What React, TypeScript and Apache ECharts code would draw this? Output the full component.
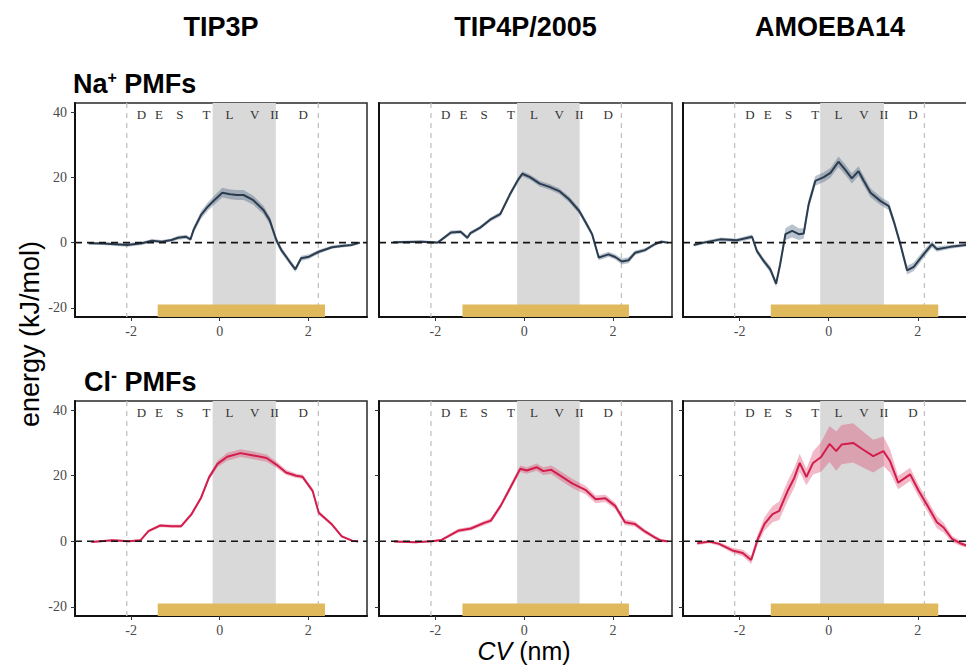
import React, { useEffect, useRef } from 'react';
import * as echarts from 'echarts';

// ---------- data ----------
const colTitles = ['TIP3P', 'TIP4P/2005', 'AMOEBA14'];
const xTickValues = [-2, 0, 2];
const yTickValues = [-20, 0, 20, 40];
const regionLetters = ['D', 'E', 'S', 'T', 'L', 'V', 'II', 'D'];
const regionLetterX = [-1.77, -1.37, -0.9, -0.3, 0.22, 0.79, 1.24, 1.89];
const regionLetterY = 39.3;
const shadeStart = [-0.16, -0.16, -0.19];
const shadeEnd = [1.27, 1.25, 1.24];
const guideLeft = [-2.1, -2.1, -2.11];
const guideRight = [2.23, 2.19, 2.15];
const barStart = [-1.4, -1.39, -1.3];
const barEnd = [2.38, 2.36, 2.46];
const barTop = -19;

// Na+ TIP3P
const naTip3pX = [-2.96, -2.64, -2.09, -1.76, -1.53, -1.31, -1.09, -0.94, -0.76, -0.66, -0.59, -0.42, -0.27, -0.13, 0.06, 0.24, 0.39, 0.54, 0.76, 0.99, 1.13, 1.28, 1.39, 1.58, 1.71, 1.84, 2.02, 2.24, 2.54, 2.76, 2.99, 3.17];
const naTip3pY = [-0.2, -0.3, -0.7, -0.2, 0.6, 0.3, 0.8, 1.5, 1.8, 1.0, 3.9, 8.5, 11.0, 12.9, 15.3, 14.8, 14.6, 14.6, 13.0, 10.0, 6.9, 0.8, -2.2, -5.8, -8.2, -4.8, -4.3, -2.8, -1.4, -1.0, -0.7, 0.0];
const naTip3pErr = [0.4, 0.4, 0.6, 0.5, 0.5, 0.5, 0.5, 0.6, 0.6, 0.6, 1.0, 1.2, 1.3, 1.4, 1.5, 1.5, 1.5, 1.5, 1.4, 1.3, 1.2, 1.0, 0.9, 0.8, 0.8, 0.8, 0.7, 0.6, 0.5, 0.5, 0.4, 0.4];

// Na+ TIP4P/2005
const naTip4pX = [-2.95, -2.32, -1.95, -1.65, -1.43, -1.28, -1.21, -0.99, -0.76, -0.54, -0.32, -0.13, -0.04, 0.13, 0.35, 0.57, 0.79, 1.01, 1.24, 1.39, 1.53, 1.68, 1.9, 2.05, 2.2, 2.35, 2.5, 2.72, 2.94, 3.09, 3.24];
const naTip4pY = [0.1, 0.3, 0.0, 3.1, 3.3, 1.5, 2.9, 4.6, 7.1, 8.7, 14.8, 19.4, 21.1, 20.1, 18.1, 17.1, 15.8, 13.3, 9.7, 6.1, 2.6, -4.6, -3.6, -4.4, -5.8, -5.4, -3.1, -2.3, -0.5, 0.3, 0.0];
const naTip4pErr = [0.4, 0.4, 0.4, 0.6, 0.6, 0.6, 0.6, 0.6, 0.6, 0.7, 0.8, 0.8, 0.8, 0.8, 0.9, 0.9, 0.9, 0.9, 0.9, 0.9, 0.8, 0.8, 0.8, 0.8, 0.9, 0.9, 0.7, 0.6, 0.5, 0.4, 0.4];

// Na+ AMOEBA14
const naAmoebaX = [-3.03, -2.81, -2.43, -2.06, -1.72, -1.61, -1.46, -1.31, -1.18, -1.09, -0.97, -0.82, -0.67, -0.56, -0.45, -0.3, -0.11, 0.04, 0.22, 0.37, 0.52, 0.67, 0.79, 0.94, 1.16, 1.35, 1.46, 1.61, 1.76, 1.91, 2.13, 2.32, 2.43, 2.73, 3.09, 3.33];
const naAmoebaY = [-0.7, 0.0, 1.0, 0.7, 1.8, -2.6, -5.6, -8.2, -12.6, -6.7, 2.6, 3.6, 2.6, 2.8, 11.7, 18.9, 20.1, 21.4, 24.8, 22.4, 19.7, 21.9, 18.9, 15.3, 12.8, 11.2, 6.6, -0.5, -8.5, -7.4, -3.6, -0.5, -2.0, -1.3, -0.7, -0.5];
const naAmoebaErr = [0.5, 0.5, 0.6, 0.6, 0.7, 0.8, 0.9, 1.0, 1.0, 1.2, 1.8, 2.0, 1.8, 1.6, 1.5, 1.5, 1.5, 1.5, 1.6, 1.6, 1.6, 1.5, 1.5, 1.4, 1.3, 1.3, 1.2, 1.2, 1.3, 1.3, 1.2, 1.0, 0.8, 0.6, 0.5, 0.5];

// Cl- TIP3P
const clTip3pX = [-2.9, -2.42, -2.05, -1.79, -1.61, -1.35, -1.09, -0.87, -0.64, -0.42, -0.24, -0.05, 0.17, 0.47, 0.76, 1.06, 1.28, 1.5, 1.73, 1.87, 2.1, 2.24, 2.54, 2.76, 2.99, 3.13];
const clTip3pY = [-0.2, 0.3, 0.0, 0.3, 3.1, 4.8, 4.6, 4.6, 8.2, 13.3, 19.5, 23.6, 25.8, 26.9, 26.2, 25.4, 23.4, 21.0, 20.0, 19.7, 15.4, 8.7, 5.1, 1.5, 0.2, -0.1];
const clTip3pErr = [0.3, 0.3, 0.3, 0.3, 0.4, 0.5, 0.5, 0.5, 0.6, 0.7, 0.8, 1.0, 1.2, 1.2, 1.2, 1.1, 1.0, 0.8, 0.7, 0.7, 0.7, 0.6, 0.5, 0.4, 0.3, 0.3];

// Cl- TIP4P/2005
const clTip4pX = [-2.93, -2.45, -2.08, -1.86, -1.49, -1.2, -0.9, -0.75, -0.53, -0.31, -0.09, 0.06, 0.28, 0.43, 0.61, 0.83, 1.09, 1.39, 1.61, 1.83, 2.05, 2.27, 2.49, 2.72, 2.94, 3.08, 3.23];
const clTip4pY = [-0.1, -0.3, 0.0, 0.4, 3.2, 3.9, 5.6, 6.3, 10.8, 16.4, 22.1, 21.6, 22.6, 21.4, 21.8, 19.9, 17.6, 15.6, 12.8, 13.1, 10.8, 5.8, 5.3, 3.0, 1.2, 0.2, 0.0];
const clTip4pErr = [0.3, 0.3, 0.3, 0.4, 0.6, 0.6, 0.7, 0.7, 0.8, 0.9, 1.0, 1.0, 1.1, 1.2, 1.3, 1.4, 1.4, 1.3, 1.2, 1.1, 1.0, 0.9, 0.8, 0.7, 0.6, 0.5, 0.4];

// Cl- AMOEBA14
const clAmoebaX = [-2.95, -2.68, -2.46, -2.16, -1.93, -1.74, -1.59, -1.44, -1.26, -1.11, -0.92, -0.77, -0.65, -0.5, -0.35, -0.17, 0.02, 0.17, 0.29, 0.55, 0.77, 1.0, 1.23, 1.38, 1.56, 1.83, 2.02, 2.2, 2.43, 2.58, 2.77, 2.95, 3.09, 3.33];
const clAmoebaY = [-0.6, -0.1, -0.8, -2.8, -3.6, -5.7, 0.7, 5.3, 8.3, 9.3, 15.4, 19.4, 23.9, 19.6, 23.9, 25.7, 29.7, 27.5, 29.5, 30.0, 28.0, 26.0, 27.5, 24.4, 17.9, 20.4, 15.4, 11.3, 5.8, 4.2, 0.7, -0.6, -1.3, -1.5];
const clAmoebaErr = [0.5, 0.5, 0.6, 0.8, 1.0, 1.2, 1.5, 2.0, 2.5, 2.8, 3.0, 3.0, 2.8, 2.5, 3.5, 4.5, 5.5, 6.0, 6.0, 6.0, 5.5, 5.0, 4.5, 3.5, 2.0, 2.0, 1.8, 1.8, 1.8, 1.5, 1.0, 0.8, 0.6, 0.5];

// ---------- layout / style ----------
const X_MIN = -3.27;
const X_MAX = 3.33;
const Y_MIN = -22.8;
const Y_MAX = 42.8;
const rowTop = [103, 401];
const rowHeight = [214, 215];
const colLeft = [75, 379, 683];
const colWidth = [292, 293, 294];
const CHART_W = 1000; // wider than the window: the right column runs past the page edge
const CHART_H = 665;

const ionStyle: Record<string, { line: string; band: string }> = {
  na: { line: '#2b3c4e', band: 'rgba(72, 98, 128, 0.38)' },
  cl: { line: '#d21d4c', band: 'rgba(222, 70, 110, 0.38)' },
};

const panels = [
  { row: 0, col: 0, ion: 'na', x: naTip3pX, y: naTip3pY, e: naTip3pErr },
  { row: 0, col: 1, ion: 'na', x: naTip4pX, y: naTip4pY, e: naTip4pErr },
  { row: 0, col: 2, ion: 'na', x: naAmoebaX, y: naAmoebaY, e: naAmoebaErr },
  { row: 1, col: 0, ion: 'cl', x: clTip3pX, y: clTip3pY, e: clTip3pErr },
  { row: 1, col: 1, ion: 'cl', x: clTip4pX, y: clTip4pY, e: clTip4pErr },
  { row: 1, col: 2, ion: 'cl', x: clAmoebaX, y: clAmoebaY, e: clAmoebaErr },
];

const tickFont = 'Liberation Serif';
const sansFont = 'Liberation Sans';

function buildOption() {
  const grid: any[] = [];
  const xAxis: any[] = [];
  const yAxis: any[] = [];
  const series: any[] = [];

  panels.forEach((p, i) => {
    const c = p.col;
    grid.push({
      left: colLeft[c],
      top: rowTop[p.row],
      width: colWidth[c],
      height: rowHeight[p.row],
      show: true,
      borderColor: '#2a2a2a',
      borderWidth: 1.5,
      backgroundColor: 'transparent',
      containLabel: false,
    });
    xAxis.push({
      type: 'value',
      gridIndex: i,
      min: X_MIN,
      max: X_MAX,
      splitLine: { show: false },
      axisLine: { show: true, onZero: false, lineStyle: { color: '#111', width: 2 } },
      axisTick: { show: true, customValues: xTickValues, length: 4, lineStyle: { color: '#333', width: 1 } },
      axisLabel: {
        show: true,
        customValues: xTickValues,
        margin: 7,
        color: '#4a4a4a',
        fontFamily: tickFont,
        fontSize: 14,
      },
    });
    yAxis.push({
      type: 'value',
      gridIndex: i,
      min: Y_MIN,
      max: Y_MAX,
      splitLine: { show: false },
      axisLine: { show: true, onZero: false, lineStyle: { color: '#111', width: 2 } },
      axisTick: {
        show: c === 0 || p.row === 1,
        customValues: yTickValues,
        length: 4,
        lineStyle: { color: '#333', width: 1 },
      },
      axisLabel: {
        show: c === 0,
        customValues: yTickValues,
        margin: 8,
        color: '#4a4a4a',
        fontFamily: tickFont,
        fontSize: 14,
      },
    });

    const st = ionStyle[p.ion];

    // grey shaded region
    series.push({
      type: 'custom',
      xAxisIndex: i,
      yAxisIndex: i,
      z: 1,
      silent: true,
      data: [[shadeStart[c], shadeEnd[c]]],
      renderItem: (params: any, api: any) => {
        const a = api.coord([api.value(0), Y_MAX]);
        const b = api.coord([api.value(1), Y_MIN]);
        return {
          type: 'rect',
          shape: { x: a[0], y: a[1], width: b[0] - a[0], height: b[1] - a[1] },
          style: { fill: '#d9d9d9' },
        };
      },
    });
    // dashed vertical guides
    series.push({
      type: 'custom',
      xAxisIndex: i,
      yAxisIndex: i,
      z: 2,
      silent: true,
      data: [[guideLeft[c], 0], [guideRight[c], 0]],
      renderItem: (params: any, api: any) => {
        const a = api.coord([api.value(0), Y_MAX]);
        const b = api.coord([api.value(0), Y_MIN]);
        return {
          type: 'line',
          shape: { x1: a[0], y1: a[1], x2: b[0], y2: b[1] },
          style: { stroke: '#c2c2c2', lineWidth: 1.3, lineDash: [5, 5] },
        };
      },
    });
    // yellow bar
    series.push({
      type: 'custom',
      xAxisIndex: i,
      yAxisIndex: i,
      z: 3,
      silent: true,
      data: [[barStart[c], barEnd[c]]],
      renderItem: (params: any, api: any) => {
        const a = api.coord([api.value(0), barTop]);
        const b = api.coord([api.value(1), Y_MIN]);
        return {
          type: 'rect',
          shape: { x: a[0], y: a[1], width: b[0] - a[0], height: b[1] - a[1] },
          style: { fill: '#e0b95c' },
        };
      },
    });
    // error band
    series.push({
      type: 'custom',
      xAxisIndex: i,
      yAxisIndex: i,
      z: 4,
      silent: true,
      data: [[0, 0]],
      renderItem: (params: any, api: any) => {
        const upper = p.x.map((xv, k) => api.coord([xv, p.y[k] + p.e[k]]));
        const lower = p.x.map((xv, k) => api.coord([xv, p.y[k] - p.e[k]])).reverse();
        return {
          type: 'polygon',
          shape: { points: upper.concat(lower) },
          style: { fill: st.band },
        };
      },
    });
    // PMF line
    series.push({
      type: 'line',
      xAxisIndex: i,
      yAxisIndex: i,
      z: 5,
      silent: true,
      showSymbol: false,
      symbol: 'none',
      data: p.x.map((xv, k) => [xv, p.y[k]]),
      lineStyle: { color: st.line, width: 2 },
    });
    // zero dashed line
    series.push({
      type: 'custom',
      xAxisIndex: i,
      yAxisIndex: i,
      z: 6,
      silent: true,
      data: [[0, 0]],
      renderItem: (params: any, api: any) => {
        const a = api.coord([X_MIN, 0]);
        const b = api.coord([X_MAX, 0]);
        return {
          type: 'line',
          shape: { x1: a[0], y1: a[1], x2: b[0], y2: b[1] },
          style: { stroke: '#151515', lineWidth: 1.6, lineDash: [7, 5] },
        };
      },
    });
    // region letters
    series.push({
      type: 'custom',
      xAxisIndex: i,
      yAxisIndex: i,
      z: 7,
      silent: true,
      data: regionLetterX.map((xv) => [xv, regionLetterY]),
      renderItem: (params: any, api: any) => {
        const pt = api.coord([api.value(0), api.value(1)]);
        return {
          type: 'text',
          x: pt[0],
          y: pt[1],
          style: {
            text: regionLetters[params.dataIndex],
            fill: '#333',
            font: `13px "${tickFont}"`,
            align: 'center',
            verticalAlign: 'middle',
          },
        };
      },
    });
  });

  const graphic: any[] = [];
  colTitles.forEach((t, c) => {
    graphic.push({
      type: 'text',
      x: colLeft[c] + colWidth[c] / 2,
      y: 27,
      style: {
        text: t,
        fill: '#000',
        font: `bold 27px "${sansFont}"`,
        align: 'center',
        verticalAlign: 'middle',
      },
    });
  });
  graphic.push({
    type: 'text',
    x: 73,
    y: 84,
    style: {
      text: '{a|Na}{s|+}{a| PMFs}',
      align: 'left',
      verticalAlign: 'middle',
      rich: {
        a: { font: `bold 27px "${sansFont}"`, fill: '#000', lineHeight: 30 },
        s: { font: `bold 16px "${sansFont}"`, fill: '#000', verticalAlign: 'top', lineHeight: 30 },
      },
    },
  });
  graphic.push({
    type: 'text',
    x: 84,
    y: 382,
    style: {
      text: '{a|Cl}{s|-}{a| PMFs}',
      align: 'left',
      verticalAlign: 'middle',
      rich: {
        a: { font: `bold 27px "${sansFont}"`, fill: '#000', lineHeight: 30 },
        s: { font: `bold 18px "${sansFont}"`, fill: '#000', verticalAlign: 'top', lineHeight: 30 },
      },
    },
  });
  graphic.push({
    type: 'text',
    x: 30,
    y: 334,
    rotation: Math.PI / 2,
    style: {
      text: 'energy (kJ/mol)',
      fill: '#000',
      font: `27px "${sansFont}"`,
      align: 'center',
      verticalAlign: 'middle',
    },
  });
  graphic.push({
    type: 'text',
    x: 524,
    y: 651,
    style: {
      text: '{i|CV}{n| (nm)}',
      align: 'center',
      verticalAlign: 'middle',
      rich: {
        i: { font: `italic 25px "${sansFont}"`, fill: '#000', lineHeight: 24 },
        n: { font: `25px "${sansFont}"`, fill: '#000', lineHeight: 24 },
      },
    },
  });

  return {
    animation: false,
    backgroundColor: '#ffffff',
    grid,
    xAxis,
    yAxis,
    series,
    graphic,
  };
}

export default function App() {
  const ref = useRef<HTMLDivElement>(null);
  useEffect(() => {
    if (!ref.current) return;
    const chart = echarts.init(ref.current, null, { renderer: 'svg' });
    chart.setOption(buildOption() as any);
    return () => chart.dispose();
  }, []);
  return (
    <div
      style={{
        position: 'absolute',
        left: 0,
        top: 0,
        width: 966,
        height: 665,
        overflow: 'hidden',
        background: '#fff',
      }}
    >
      <div ref={ref} style={{ width: CHART_W, height: CHART_H }} />
    </div>
  );
}
